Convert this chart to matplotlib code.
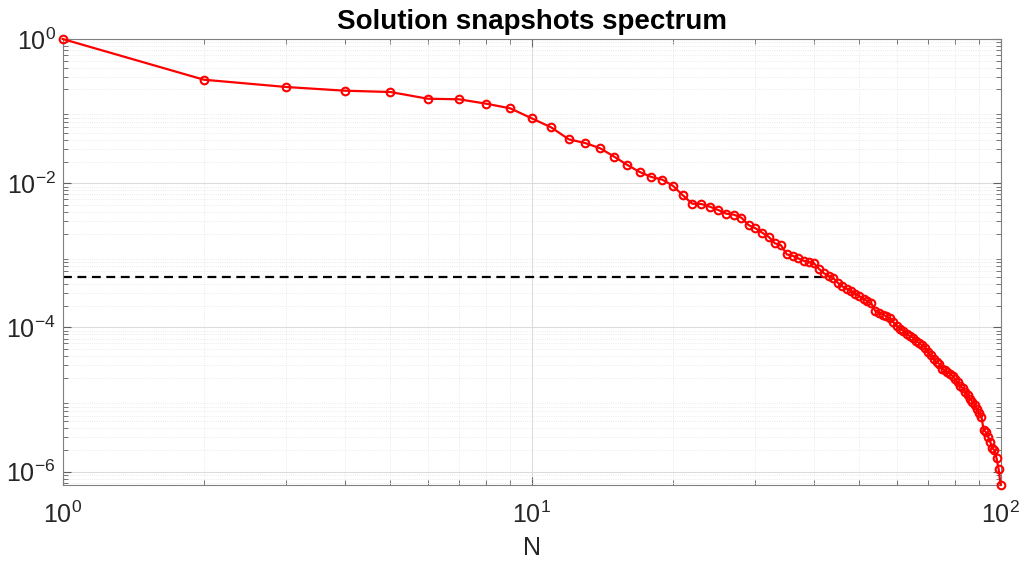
import numpy as np
import matplotlib
matplotlib.use("Agg")
import matplotlib.pyplot as plt
from matplotlib.ticker import (LogLocator, LogFormatterMathtext, NullFormatter,
                               FixedLocator)

plt.rcParams['font.family'] = ['Liberation Sans', 'DejaVu Sans']
plt.rcParams['mathtext.fontset'] = 'custom'
plt.rcParams['mathtext.rm'] = 'Liberation Sans'
plt.rcParams['mathtext.default'] = 'regular'
plt.rcParams['axes.unicode_minus'] = False

# Normalised singular values of the snapshot matrix
n_modes = np.arange(1, 101)
sigma = [
    1.0, 0.2726, 0.2159, 0.1918, 0.1840, 0.1486, 0.1458, 0.1267, 0.1093, 0.0795,
    0.0596, 0.0406, 0.0361, 0.0305, 0.0233, 0.0179, 0.0143, 0.0122, 0.0112, 0.00923,
    0.00680, 0.00520, 0.00515, 0.00472, 0.00425, 0.00378, 0.00366, 0.00332, 0.00263, 0.00237,
    0.00206, 0.00181, 0.00147, 0.00138, 0.00103, 0.000988, 0.000909, 0.000842, 0.000807, 0.000774,
    0.000646, 0.000563, 0.000516, 0.000480, 0.000413, 0.000370, 0.000344, 0.000318, 0.000292, 0.000269,
    0.000251, 0.000230, 0.000215, 0.000170, 0.000158, 0.000151, 0.000143, 0.000133, 0.000119, 0.0001046,
    9.59e-5, 8.97e-5, 8.15e-5, 7.57e-5, 7.24e-5, 6.48e-5, 6.08e-5, 5.64e-5, 5.26e-5, 4.56e-5,
    4.09e-5, 3.66e-5, 3.32e-5, 3.11e-5, 2.69e-5, 2.57e-5, 2.41e-5, 2.28e-5, 2.12e-5, 1.92e-5,
    1.73e-5, 1.56e-5, 1.43e-5, 1.29e-5, 1.16e-5, 1.03e-5, 9.38e-6, 8.47e-6, 7.38e-6, 6.50e-6,
    5.72e-6, 3.78e-6, 3.54e-6, 3.05e-6, 2.60e-6, 2.10e-6, 1.99e-6, 1.53e-6, 1.09e-6, 6.52e-7,
]

# Truncation tolerance and the number of retained modes
tol = 5e-4
n_keep = 43

fig = plt.figure(figsize=(10.26, 5.67), dpi=100)
ax = fig.add_axes([0.0611, 0.1446, 0.9142, 0.7866])

ax.loglog(n_modes, sigma, '-o', color='#ff0000', lw=1.6, ms=5.5,
          mfc='none', mec='#ff0000', mew=1.5, zorder=3, clip_on=False)
ax.plot([1, n_keep], [tol, tol], '--', color='black', lw=1.6, zorder=2,
        dashes=(4, 2.5))

ax.set_xlim(1, 100)
ax.set_ylim(min(sigma), max(sigma))

ax.xaxis.set_major_locator(FixedLocator([1, 10, 100]))
ax.yaxis.set_major_locator(FixedLocator([1e-6, 1e-4, 1e-2, 1e0]))
ax.xaxis.set_major_formatter(LogFormatterMathtext())
ax.yaxis.set_major_formatter(LogFormatterMathtext())
ax.xaxis.set_minor_locator(LogLocator(base=10, subs=np.arange(2, 10), numticks=20))
ax.yaxis.set_minor_locator(LogLocator(base=10, subs=np.arange(2, 10), numticks=20))
ax.xaxis.set_minor_formatter(NullFormatter())
ax.yaxis.set_minor_formatter(NullFormatter())

ax.grid(True, which='major', color='#dcdcdc', lw=0.8, ls='-')
ax.grid(True, which='minor', color='#e4e4e4', lw=0.6, ls=':')
ax.set_axisbelow(True)

for s in ax.spines.values():
    s.set_color('#808080')
    s.set_linewidth(0.8)
ax.tick_params(which='both', direction='in', top=True, right=True,
               color='#606060', labelsize=18, labelcolor='#262626')
ax.tick_params(which='major', length=6, width=0.8)
ax.tick_params(axis='x', which='major', pad=12)
ax.tick_params(axis='y', which='major', pad=5)
ax.tick_params(which='minor', length=3.5, width=0.6)

ax.set_xlabel('N', fontsize=18, color='#262626', labelpad=6)
ax.set_title('Solution snapshots spectrum', fontsize=20, fontweight='bold', pad=7)

fig.savefig('out.png', dpi=100)
